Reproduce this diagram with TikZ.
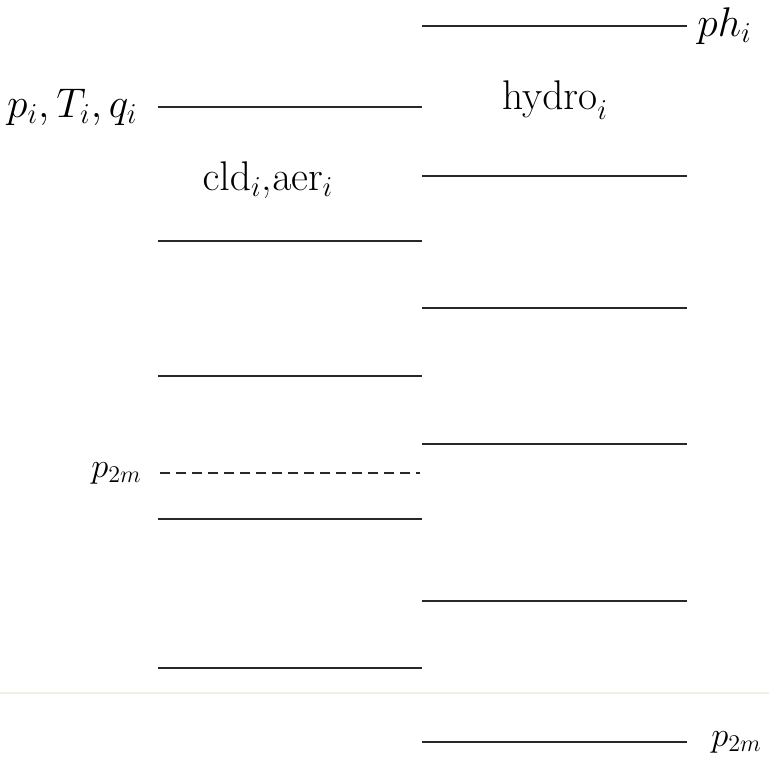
\documentclass[tikz,border=0pt]{standalone}
\usepackage{amsmath,amssymb}
\usepackage{xcolor}
\usetikzlibrary{positioning}
\definecolor{levelc}{RGB}{40,40,40}
\definecolor{faint}{RGB}{238,240,226}

\begin{document}
\begin{tikzpicture}[
  x=0.5pt,y=-0.5pt,
  font=\fontsize{21}{25}\selectfont,
  level/.style={levelc,line width=1pt},
  sublevel/.style={levelc,line width=0.9pt,dash pattern=on 5pt off 3pt},
  lab/.style={inner sep=0pt},
  small/.style={inner sep=0pt,font=\fontsize{18}{21}\selectfont},
]
\useasboundingbox (0,0) rectangle (769,758);

% left column: cloud / aerosol levels
\coordinate (c1a) at (158,107); \coordinate (c1b) at (422,107);
\coordinate (c2a) at (158,241); \coordinate (c2b) at (422,241);
\coordinate (c3a) at (158,376); \coordinate (c3b) at (422,376);
\coordinate (c4a) at (158,519); \coordinate (c4b) at (422,519);
\coordinate (c5a) at (158,668); \coordinate (c5b) at (422,668);
\coordinate (da) at (160,473); \coordinate (db) at (420,473);

% right column: hydro levels
\coordinate (h1a) at (422,26);  \coordinate (h1b) at (687,26);
\coordinate (h2a) at (422,176); \coordinate (h2b) at (687,176);
\coordinate (h3a) at (422,308); \coordinate (h3b) at (687,308);
\coordinate (h4a) at (422,444); \coordinate (h4b) at (687,444);
\coordinate (h5a) at (422,601); \coordinate (h5b) at (687,601);
\coordinate (h6a) at (422,742); \coordinate (h6b) at (687,742);

\draw[level] (c1a) -- (c1b);
\draw[level] (c2a) -- (c2b);
\draw[level] (c3a) -- (c3b);
\draw[level] (c4a) -- (c4b);
\draw[level] (c5a) -- (c5b);
\draw[sublevel] (da) -- (db);

\draw[level] (h1a) -- (h1b);
\draw[level] (h2a) -- (h2b);
\draw[level] (h3a) -- (h3b);
\draw[level] (h4a) -- (h4b);
\draw[level] (h5a) -- (h5b);
\draw[level] (h6a) -- (h6b);

\coordinate (fa) at (0,693); \coordinate (fb) at (769,693);
\draw[faint,line width=0.6pt] (fa) -- (fb);

\node[lab,left=10pt of c1a] (ptq) {$p_i,T_i,q_i$};
\node[lab,right=5pt of h1b] (ph) {$ph_i$};
\node[lab] (cld) at (268,180) {$\mathrm{cld}_i$,$\mathrm{aer}_i$};
\node[lab] (hyd) at (555,100) {$\mathrm{hydro}_i$};
\node[small,left=9pt of da] (p2l) {$p_{2m}$};
\node[small,right=12pt of h6b] (p2r) {$p_{2m}$};

\end{tikzpicture}
\end{document}
